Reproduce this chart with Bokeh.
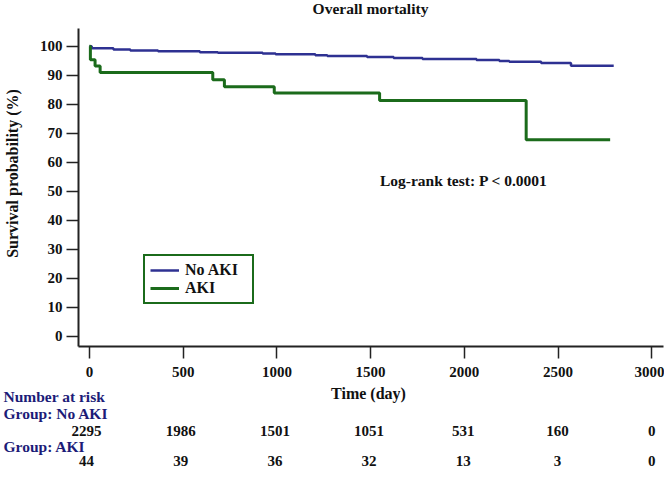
from bokeh.plotting import figure
from bokeh.layouts import column
from bokeh.models import Range1d, Label, Legend, LegendItem, FixedTicker
from bokeh.core.properties import value
from bokeh.embed import file_html
from bokeh.resources import INLINE

# ---------------- data ----------------
title_text = "Overall mortality"
no_aki_t = [0, 12, 128, 218, 366, 589, 685, 924, 993, 1205, 1269, 1481, 1623, 1777, 2065, 2187, 2240, 2410, 2569, 2797]
no_aki_s = [100, 99.3, 98.9, 98.5, 98.3, 97.9, 97.7, 97.5, 97.2, 96.9, 96.6, 96.3, 95.9, 95.6, 95.2, 94.9, 94.6, 94.2, 93.3, 93.3]
aki_t = [0, 5, 30, 57, 658, 720, 986, 1548, 2330, 2778]
aki_s = [100, 95.3, 93.2, 90.9, 88.4, 86.0, 83.9, 81.3, 67.7, 67.7]
x_ticks = [0, 500, 1000, 1500, 2000, 2500, 3000]
y_ticks = [0, 10, 20, 30, 40, 50, 60, 70, 80, 90, 100]
risk_times = [0, 500, 1000, 1500, 2000, 2500, 3000]
risk_no_aki = [2295, 1986, 1501, 1051, 531, 160, 0]
risk_aki = [44, 39, 36, 32, 13, 3, 0]
group_labels = ["No AKI", "AKI"]

# ---------------- style / layout ----------------
BLUE = "#2e3192"
GREEN = "#1b6b1b"
NAVY = "#1c1c78"
BLACK = "#111111"
FONT = "Liberation Serif"
FS = "15px"

W = 664
H1, H2 = 384, 86
FL, FR, FT, FB = 75, 1, 0, 38
PX_X = 94.2 / 500.0          # pixels per day
PX_Y = 2.9                   # pixels per percent
X0 = -(86 - FL) / PX_X
X1 = X0 + (W - FL - FR) / PX_X
FRAME_BOTTOM = H1 - FB
Y0 = -(FRAME_BOTTOM - 335.7) / PX_Y
Y1 = Y0 + (H1 - FT - FB) / PX_Y
Y_AXIS_TOP = 106.1


def ym(py):  # pixel y -> main data y
    return Y0 + (FRAME_BOTTOM - py) / PX_Y


def xm(px):  # pixel x -> data x
    return (px - 86) / PX_X


p = figure(width=W, height=H1, x_range=Range1d(X0, X1), y_range=Range1d(Y0, Y1),
           output_backend="svg", toolbar_location=None,
           min_border_left=FL, min_border_right=FR, min_border_top=FT, min_border_bottom=FB)
p.frame_align = False
p.outline_line_color = None
p.xgrid.grid_line_color = None
p.ygrid.grid_line_color = None
p.background_fill_color = "white"
p.border_fill_color = "white"

for ax in (p.xaxis[0], p.yaxis[0]):
    ax.axis_line_color = "#222222"
    ax.axis_line_width = 2
    ax.major_tick_line_color = "#222222"
    ax.major_tick_line_width = 1.5
    ax.major_tick_out = 12
    ax.major_tick_in = 0
    ax.minor_tick_line_color = None
    ax.major_label_text_font = FONT
    ax.major_label_text_font_style = "bold"
    ax.major_label_text_font_size = FS
    ax.major_label_text_color = BLACK
    ax.axis_label_text_font = FONT
    ax.axis_label_text_font_style = "bold"
    ax.axis_label_text_font_size = "16px"
    ax.axis_label_text_color = BLACK

p.xaxis.ticker = FixedTicker(ticks=x_ticks)
p.yaxis.ticker = FixedTicker(ticks=y_ticks)
p.yaxis.bounds = (Y0, Y_AXIS_TOP)
p.yaxis.axis_label = "Survival probability (%)"
p.xaxis.major_label_standoff = 8
p.yaxis.major_label_standoff = 4
p.yaxis.axis_label_standoff = 16

r1 = p.step(no_aki_t, no_aki_s, mode="after", line_color=BLUE, line_width=2.5)
r2 = p.step(aki_t, aki_s, mode="after", line_color=GREEN, line_width=3)

legend = Legend(items=[LegendItem(label=group_labels[0], renderers=[r1]),
                       LegendItem(label=group_labels[1], renderers=[r2])],
                location=(65, 42))
legend.label_text_font = FONT
legend.label_text_font_style = "bold"
legend.label_text_font_size = "16px"
legend.label_text_color = BLACK
legend.border_line_color = GREEN
legend.border_line_width = 2
legend.border_line_alpha = 1
legend.glyph_width = 29
legend.glyph_height = 16
legend.label_height = 16
legend.label_width = 62
legend.label_standoff = 6
legend.padding = 5
legend.spacing = 0
legend.margin = 0
legend.background_fill_alpha = 1
p.add_layout(legend)


def lab(x, y, text, align="left", color=BLACK, baseline="middle", size="15.5px"):
    p.add_layout(Label(x=x, y=y, text=text, text_align=align, text_baseline=baseline,
                       text_font=FONT, text_font_style="bold", text_font_size=size,
                       text_color=color))


lab(xm(368.5), ym(8), title_text, align="center")
lab(xm(378), ym(180), "Log-rank  test: P < 0.0001")

# ---------------- number-at-risk table ----------------
TOP2 = H1  # pixel y of the table's top edge
X0b = -86 / PX_X
X1b = X0b + W / PX_X
q = figure(width=W, height=H2, x_range=Range1d(X0b, X1b), y_range=Range1d(H2, 0),
           output_backend="svg", toolbar_location=None,
           x_axis_location=None, y_axis_location=None,
           min_border_left=0, min_border_right=0, min_border_top=0, min_border_bottom=0)
q.frame_align = False
q.outline_line_color = None
q.xgrid.grid_line_color = None
q.ygrid.grid_line_color = None
q.background_fill_color = "white"
q.border_fill_color = "white"


def row(py):
    return py - TOP2


def qtext(xs, py, texts, align, color, size=FS):
    q.text(x=xs, y=[row(py)] * len(xs), text=texts, text_align=align, text_baseline="middle",
           text_font=value(FONT), text_font_style="bold", text_font_size=size, text_color=color)


qtext([xm(368)], 393, ["Time (day)"], "center", BLACK, "16px")
qtext([xm(3)], 396, ["Number at risk"], "left", NAVY, "15.5px")
qtext([xm(3)], 413, ["Group: " + group_labels[0]], "left", NAVY, "15.5px")
qtext(risk_times, 430, [str(n) for n in risk_no_aki], "center", BLACK)
qtext([xm(3)], 446, ["Group: " + group_labels[1]], "left", NAVY, "15.5px")
qtext(risk_times, 460, [str(n) for n in risk_aki], "center", BLACK)

layout = column(p, q, spacing=0)
open("out.html", "w").write(file_html(layout, INLINE))
